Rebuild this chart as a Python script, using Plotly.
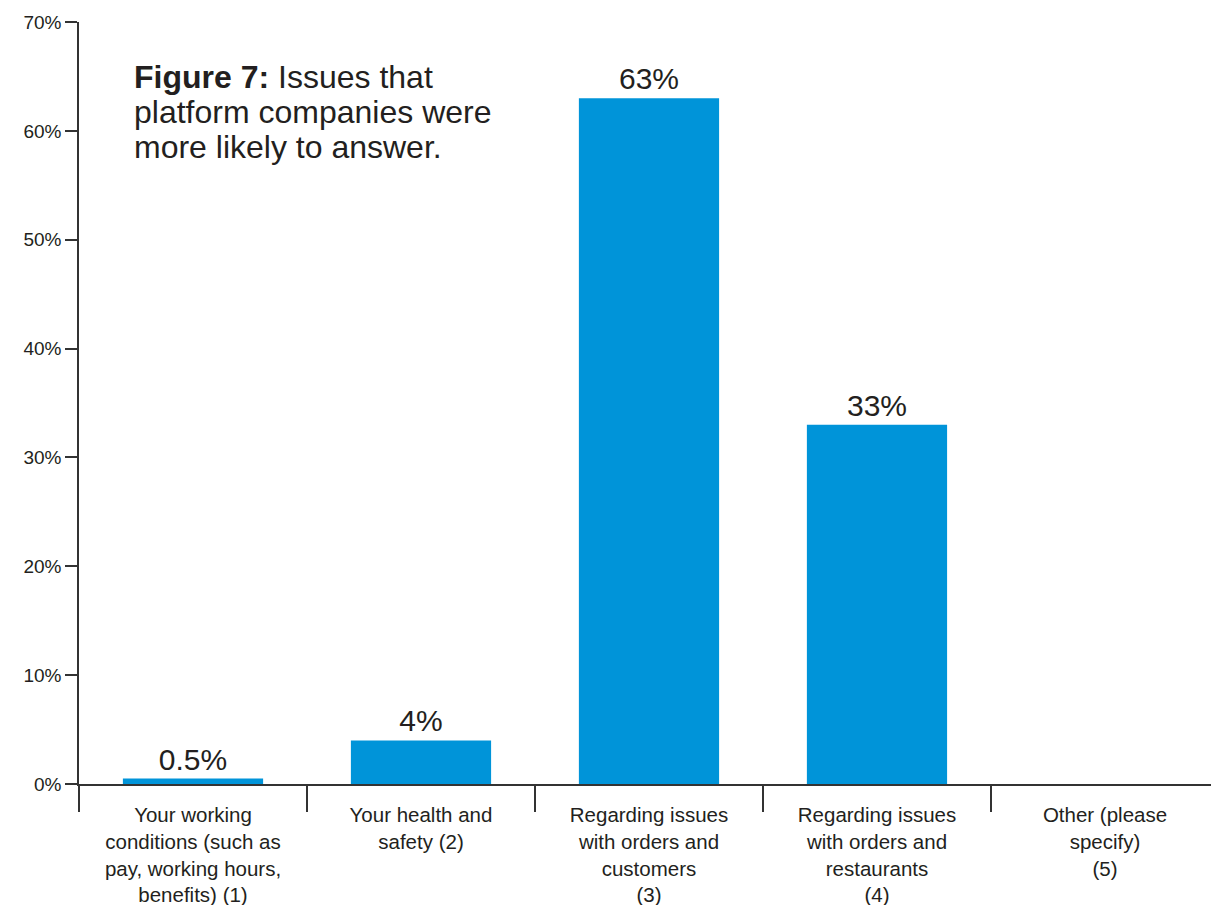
import plotly.graph_objects as go

# Survey responses: share of platform-company answers by issue type
categories = [
    "Your working<br>conditions (such as<br>pay, working hours,<br>benefits) (1)",
    "Your health and<br>safety (2)",
    "Regarding issues<br>with orders and<br>customers<br>(3)",
    "Regarding issues<br>with orders and<br>restaurants<br>(4)",
    "Other (please<br>specify)<br>(5)",
]
values = [0.5, 4, 63, 33, None]
value_labels = ["0.5%", "4%", "63%", "33%", ""]
y_ticks = [0, 10, 20, 30, 40, 50, 60, 70]
y_tick_labels = [f"{v}%" for v in y_ticks]
title_lines = [
    "<b>Figure 7:</b> Issues that",
    "platform companies were",
    "more likely to answer.",
]

BLUE = "#0094D9"
INK = "#231F20"
AXIS = "#333333"
FONT = "Liberation Sans, Arial, sans-serif"

W, H = 1211, 905
M_L, M_R, M_T, M_B = 79, 0, 22, 121
PLOT_H = H - M_T - M_B

fig = go.Figure(
    go.Bar(
        x=categories,
        y=values,
        marker=dict(color=BLUE, line=dict(width=0)),
        width=0.615,
        text=value_labels,
        textposition="outside",
        textfont=dict(size=30, color=INK, family=FONT),
        cliponaxis=False,
        hoverinfo="skip",
    )
)

fig.update_layout(
    width=W,
    height=H,
    margin=dict(l=M_L, r=M_R, t=M_T, b=M_B),
    paper_bgcolor="white",
    plot_bgcolor="white",
    showlegend=False,
    font=dict(family=FONT, color=INK),
    uniformtext=dict(mode=False),
)

fig.update_xaxes(
    type="category",
    range=[-0.5, 4.465],
    automargin=False,
    showline=True,
    linecolor=AXIS,
    linewidth=1.5,
    ticks="outside",
    tickson="boundaries",
    ticklen=26,
    tickwidth=1.5,
    tickcolor=AXIS,
    tickfont=dict(size=20.5, color=INK, family=FONT),
    ticklabelstandoff=12,
    showgrid=False,
    zeroline=False,
)

fig.update_yaxes(
    range=[0, 70],
    automargin=False,
    tickvals=y_ticks,
    ticktext=y_tick_labels,
    showline=True,
    linecolor=AXIS,
    linewidth=1.5,
    ticks="outside",
    ticklen=12,
    tickwidth=1.5,
    tickcolor=AXIS,
    tickfont=dict(size=19, color=INK, family=FONT),
    showgrid=False,
    zeroline=False,
)

# Figure caption, one annotation per line for tight leading
for i, line in enumerate(title_lines):
    y_px = 77 + 35 * i
    fig.add_annotation(
        xref="paper",
        yref="paper",
        x=0.047,
        y=(H - M_B - y_px) / PLOT_H,
        xanchor="left",
        yanchor="middle",
        align="left",
        showarrow=False,
        text=line,
        font=dict(size=32, color=INK, family=FONT),
    )

fig.write_html("out.html")
